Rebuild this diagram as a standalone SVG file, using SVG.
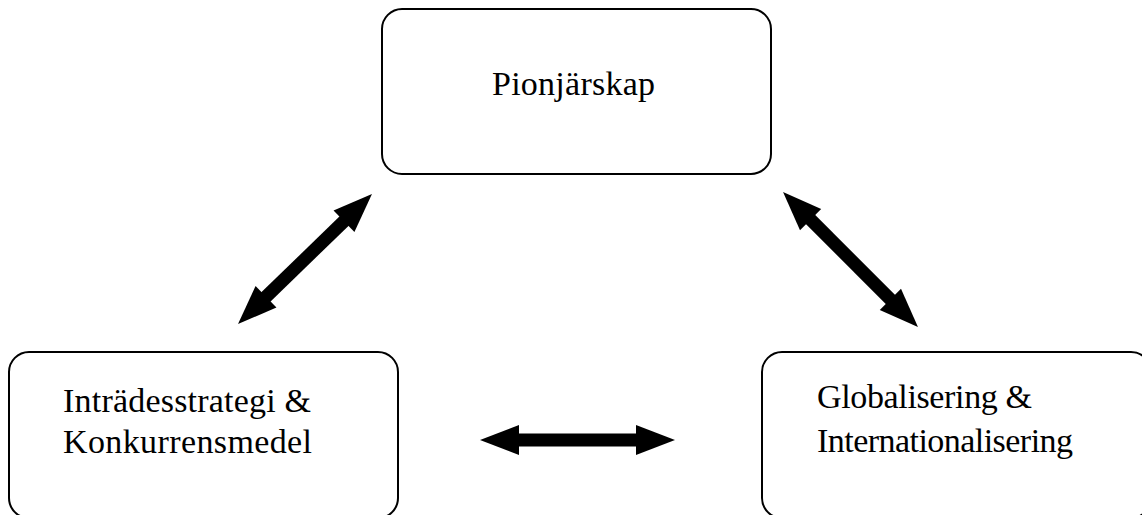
<svg xmlns="http://www.w3.org/2000/svg" width="1142" height="515" viewBox="0 0 1142 515">
  <style>
    .box { fill: #ffffff; stroke: #000000; stroke-width: 2; }
    .lbl { font-family: "Liberation Serif", "Times New Roman", serif; font-size: 34px; fill: #000000; }
    .arr { stroke: #000000; stroke-width: 13; fill: none; marker-start: url(#head); marker-end: url(#head); }
  </style>
  <defs>
    <marker id="head" markerUnits="userSpaceOnUse" markerWidth="42" markerHeight="34" viewBox="-2 -16 42 32" refX="0" refY="0" orient="auto-start-reverse" overflow="visible">
      <path d="M-1,-15 L38,0 L-1,15 Z" fill="#000000"/>
    </marker>
  </defs>
  <rect width="1142" height="515" fill="#ffffff"/>
  <g id="node-pionjarskap">
    <rect class="box" x="382" y="9" width="389" height="165" rx="20" ry="20"/>
    <text class="lbl" x="492" y="95" textLength="163" lengthAdjust="spacing">Pionjärskap</text>
  </g>
  <g id="node-intradesstrategi">
    <rect class="box" x="9" y="352" width="389" height="166" rx="20" ry="20"/>
    <text class="lbl" x="63" y="412" textLength="248" lengthAdjust="spacing">Inträdesstrategi &amp;</text>
    <text class="lbl" x="63" y="453" textLength="249" lengthAdjust="spacing">Konkurrensmedel</text>
  </g>
  <g id="node-globalisering">
    <rect class="box" x="762" y="352" width="389" height="166" rx="20" ry="20"/>
    <text class="lbl" x="817" y="408" textLength="215" lengthAdjust="spacing">Globalisering &amp;</text>
    <text class="lbl" x="817" y="452" textLength="256" lengthAdjust="spacing">Internationalisering</text>
  </g>
  <g id="connectors">
    <line class="arr" x1="265.3" y1="297.5" x2="344.7" y2="220.5"/>
    <line class="arr" x1="809.9" y1="218.9" x2="891.1" y2="300.1"/>
    <line class="arr" x1="518" y1="440" x2="637" y2="440" stroke-width="14"/>
  </g>
</svg>
